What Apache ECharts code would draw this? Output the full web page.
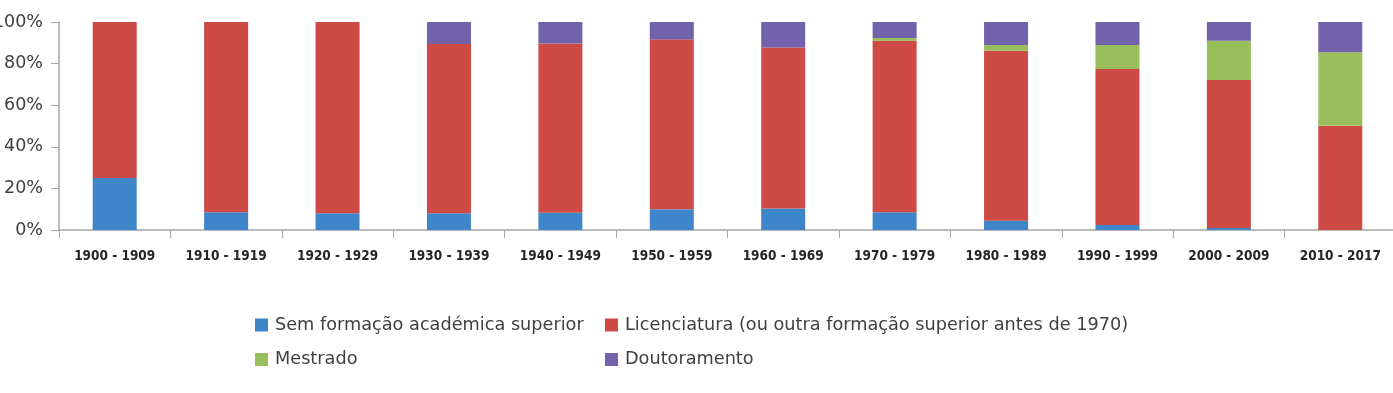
<!DOCTYPE html>
<html>
	<head>
		<meta charset="UTF-8">
		<title></title>
		<style>
			html,body{margin:0;padding:0;background:#fff}
			#chart{width:1393px;height:393px}
		</style>
	</head>
	<body>
		<div id="chart"></div>
		<script src="https://cdn.jsdelivr.net/npm/echarts@6/dist/echarts.min.js"></script>
<script>
var categories = ['1900 - 1909','1910 - 1919','1920 - 1929','1930 - 1939','1940 - 1949','1950 - 1959',
	'1960 - 1969','1970 - 1979','1980 - 1989','1990 - 1999','2000 - 2009','2010 - 2017'];
var seriesNames = ['Sem formação académica superior','Licenciatura (ou outra formação superior antes de 1970)','Mestrado','Doutoramento'];
var semFormacao = [25, 8.5, 8, 8, 8.3, 10, 10.3, 8.5, 4.5, 2.4, 1, 0];
var licenciatura = [75, 91.5, 92, 81.4, 81.4, 81.7, 77.5, 82.5, 81.7, 75, 71.1, 50.1];
var mestrado = [0, 0, 0, 0, 0, 0, 0, 1.3, 2.7, 11.5, 18.9, 35.3];
var doutoramento = [0, 0, 0, 10.6, 10.3, 8.3, 12.2, 7.7, 11.1, 11.1, 9, 14.6];
var colors = ['#3e86c9', '#cd4a45', '#98bf5b', '#7261ab'];

var chart = echarts.init(document.getElementById('chart'));

function barSeries(i, data) {
	return {
		name: seriesNames[i],
		type: 'bar',
		stack: 'total',
		barWidth: 44,
		itemStyle: { color: colors[i] },
		data: data
	};
}

// two legend blocks so the columns line up like in the original
var legendText = { fontFamily: 'DejaVu Sans', fontSize: 17.7, color: '#404040', padding: [0, 0, 0, 2] };
function legendBlock(left, names) {
	return {
		orient: 'vertical', left: left, top: 316, padding: 0,
		icon: 'rect', itemWidth: 13, itemHeight: 13, itemGap: 16.5,
		textStyle: legendText,
		data: names
	};
}

var option = {
	animation: false,
	textStyle: { fontFamily: 'DejaVu Sans' },
	grid: { left: 59, right: -3, top: 22, bottom: 163, containLabel: false, outerBoundsMode: 'none' },
	legend: [
		legendBlock(255, [seriesNames[0], seriesNames[2]]),
		legendBlock(605, [seriesNames[1], seriesNames[3]])
	],
	xAxis: {
		type: 'category',
		data: categories,
		axisLine: { lineStyle: { color: '#a6a6a6', width: 1.5 } },
		axisTick: { show: true, length: 8, lineStyle: { color: '#a6a6a6' } },
		axisLabel: {
			margin: 19, fontSize: 13.5, fontWeight: 'bold', color: '#262626', interval: 0,
			fontFamily: 'DejaVu Sans Condensed'
		}
	},
	yAxis: {
		type: 'value',
		min: 0,
		max: 100,
		interval: 20,
		axisLine: { show: true, lineStyle: { color: '#a6a6a6', width: 1.5 } },
		axisTick: { show: true, length: 8, lineStyle: { color: '#a6a6a6' } },
		splitLine: { show: false },
		axisLabel: { formatter: '{value}%', fontSize: 17.5, color: '#404040', margin: 16 }
	},
	series: [
		barSeries(0, semFormacao),
		barSeries(1, licenciatura),
		barSeries(2, mestrado),
		barSeries(3, doutoramento)
	]
};
chart.setOption(option);
</script>
	</body>
</html>
